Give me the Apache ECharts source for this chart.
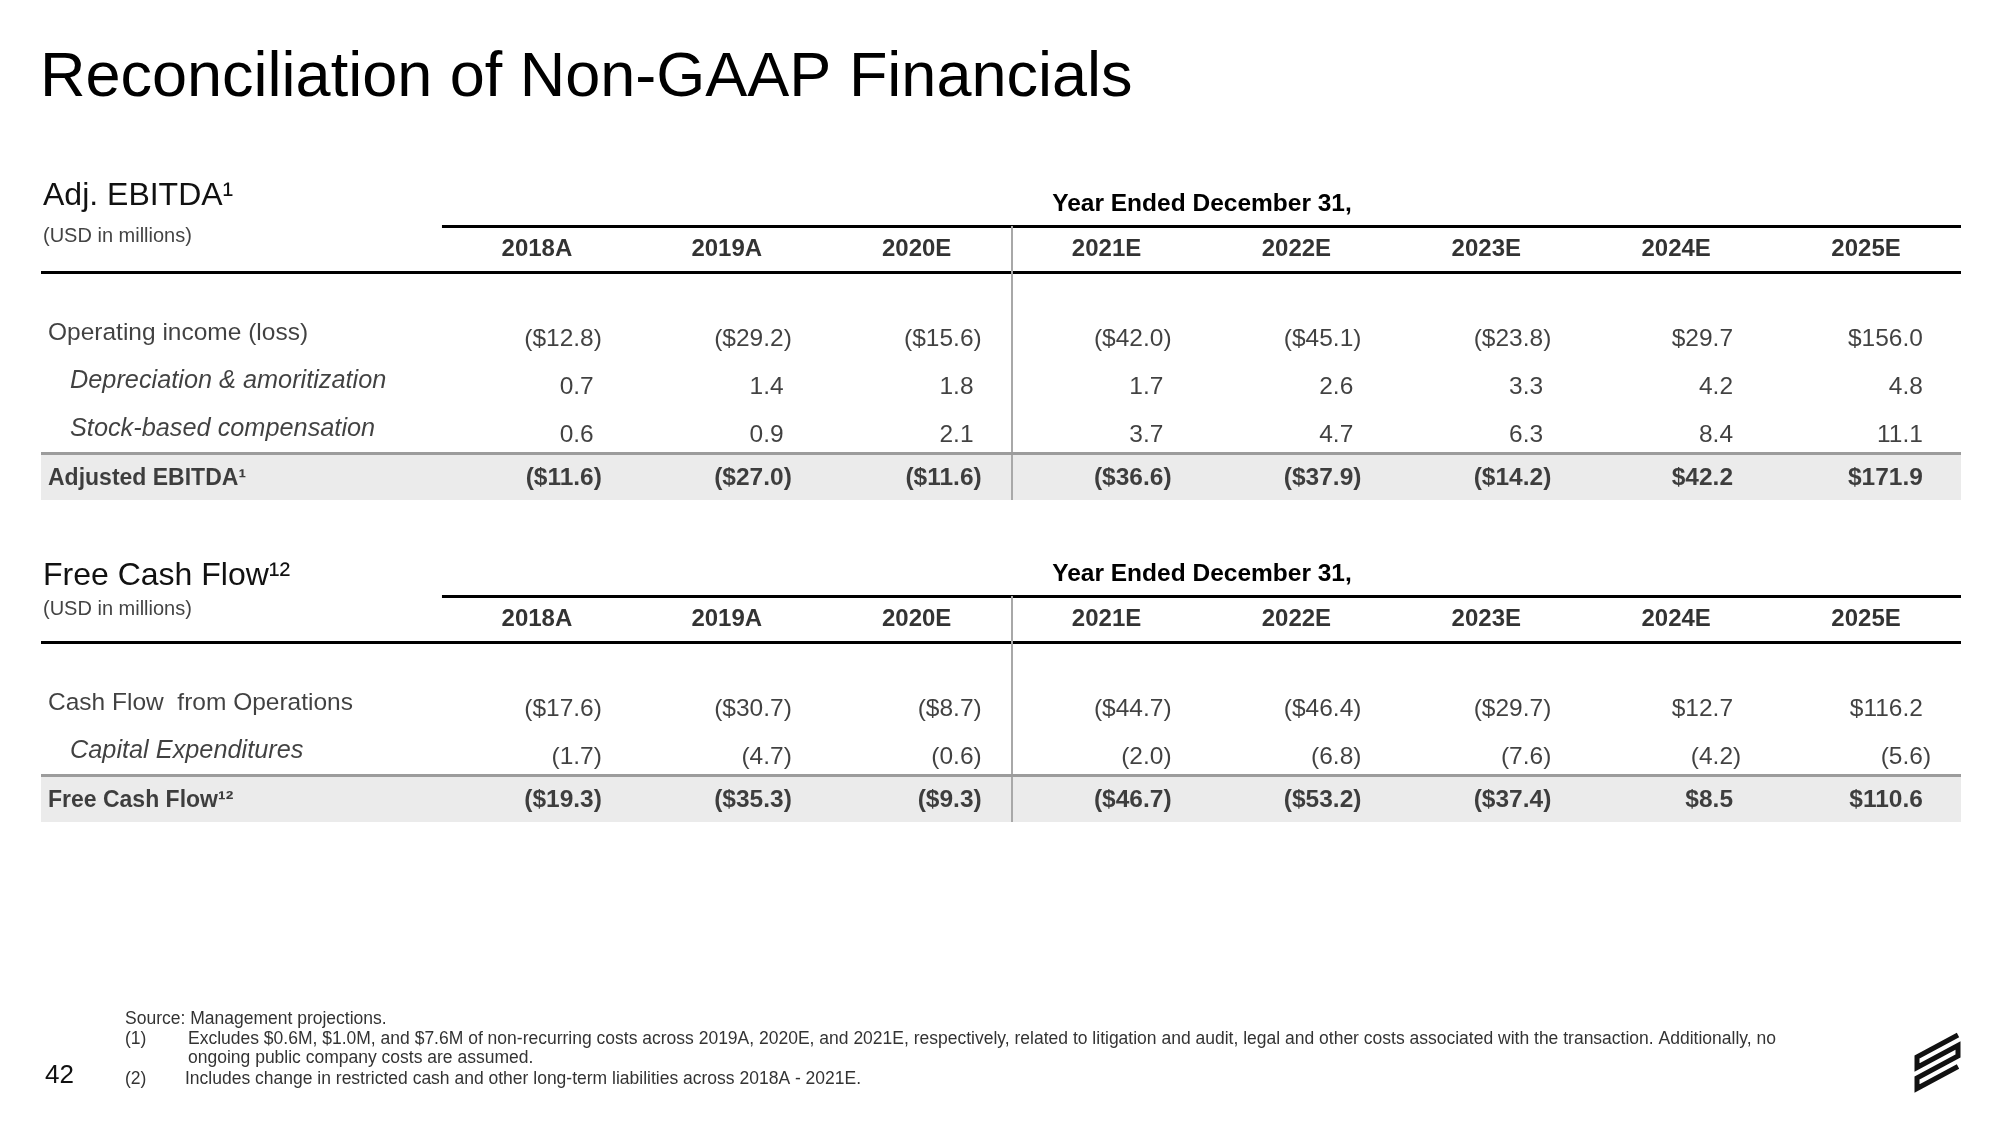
<!DOCTYPE html>
<html><head><meta charset="utf-8">
<script src="https://cdn.jsdelivr.net/npm/echarts@6/dist/echarts.min.js"></script>
<style>html,body{margin:0;padding:0;background:#fff}#c{width:2000px;height:1125px}</style>
</head><body><div id="c"></div><script>
// ---------------- data ----------------
const years = ['2018A','2019A','2020E','2021E','2022E','2023E','2024E','2025E'];

const ebitdaRowLabels = ['Operating income (loss)', 'Depreciation & amoritization', 'Stock-based compensation'];
const operatingIncome = [-12.8, -29.2, -15.6, -42.0, -45.1, -23.8, 29.7, 156.0];
const depreciationAmortization = [0.7, 1.4, 1.8, 1.7, 2.6, 3.3, 4.2, 4.8];
const stockBasedComp = [0.6, 0.9, 2.1, 3.7, 4.7, 6.3, 8.4, 11.1];
const adjustedEbitdaLabel = 'Adjusted EBITDA¹';
const adjustedEbitda = [-11.6, -27.0, -11.6, -36.6, -37.9, -14.2, 42.2, 171.9];

const fcfRowLabels = ['Cash Flow  from Operations', 'Capital Expenditures'];
const cashFlowOps = [-17.6, -30.7, -8.7, -44.7, -46.4, -29.7, 12.7, 116.2];
const capitalExpenditures = [-1.7, -4.7, -0.6, -2.0, -6.8, -7.6, -4.2, -5.6];
const freeCashFlowLabel = 'Free Cash Flow¹²';
const freeCashFlow = [-19.3, -35.3, -9.3, -46.7, -53.2, -37.4, 8.5, 110.6];

// ---------------- layout ----------------
const FONT = "'Liberation Sans', Arial, Helvetica, sans-serif";
const GRID_LEFT = 41, GRID_WIDTH = 1920;
const XMIN = -2.1117, XMAX = 8;
const ROW_PX = 48;
const Y_YEAR = 0.48, Y_RULE = 0.96, Y_ROW0 = 2.354, LABEL_LIFT = 0.125;
const GREY_GAP = 0.375, TOTAL_GAP = 0.9, BOTTOM_GAP = 1.354;
const VALUE_DX = 65;

const tables = [
  { top: 226,
    rows: [
      { label: ebitdaRowLabels[0], values: operatingIncome, dollar: true, kind: 'main' },
      { label: ebitdaRowLabels[1], values: depreciationAmortization, dollar: false, kind: 'sub' },
      { label: ebitdaRowLabels[2], values: stockBasedComp, dollar: false, kind: 'sub' }
    ],
    total: { label: adjustedEbitdaLabel, values: adjustedEbitda } },
  { top: 596,
    rows: [
      { label: fcfRowLabels[0], values: cashFlowOps, dollar: true, kind: 'main' },
      { label: fcfRowLabels[1], values: capitalExpenditures, dollar: false, kind: 'sub' }
    ],
    total: { label: freeCashFlowLabel, values: freeCashFlow } }
];

function fmt(v, dollar) {
  const s = (dollar ? '$' : '') + Math.abs(v).toFixed(1);
  return v < 0 ? '(' + s + ')' : s;
}

const grids = [], xAxes = [], yAxes = [], series = [];

tables.forEach((t, g) => {
  const lastY = Y_ROW0 + t.rows.length - 1;
  const greyY = lastY + GREY_GAP, totalY = lastY + TOTAL_GAP, ymax = lastY + BOTTOM_GAP;
  grids.push({ left: GRID_LEFT, width: GRID_WIDTH, top: t.top, height: ymax * ROW_PX, containLabel: false });
  xAxes.push({ gridIndex: g, type: 'value', min: XMIN, max: XMAX, show: false });
  yAxes.push({ gridIndex: g, type: 'value', inverse: true, min: 0, max: ymax, show: false });

  // band behind the total row
  series.push({
    type: 'scatter', xAxisIndex: g, yAxisIndex: g, silent: true, z: 1,
    symbolSize: 0, data: [[0, 0]],
    markArea: { silent: true, itemStyle: { color: '#ebebeb' },
      data: [[{ coord: [XMIN, greyY] }, { coord: [XMAX, ymax] }]] }
  });
  // rules
  series.push({
    type: 'scatter', xAxisIndex: g, yAxisIndex: g, silent: true, z: 2,
    symbolSize: 0, data: [[0, 0]],
    markLine: { silent: true, symbol: ['none', 'none'], label: { show: false },
      data: [
        [{ coord: [0, 0], lineStyle: { color: '#000', width: 3, type: 'solid' } }, { coord: [XMAX, 0] }],
        [{ coord: [XMIN, Y_RULE], lineStyle: { color: '#000', width: 3, type: 'solid' } }, { coord: [XMAX, Y_RULE] }],
        [{ coord: [3, 0], lineStyle: { color: '#a8a8a8', width: 2, type: 'solid' } }, { coord: [3, ymax] }],
        [{ coord: [XMIN, greyY], lineStyle: { color: '#9c9c9c', width: 3, type: 'solid' } }, { coord: [XMAX, greyY] }]
      ] }
  });
  // year headers
  series.push({
    type: 'scatter', xAxisIndex: g, yAxisIndex: g, silent: true, z: 5,
    symbolSize: 0,
    data: years.map((y, i) => ({ name: y, value: [i + 0.5, Y_YEAR] })),
    label: { show: true, position: 'inside', formatter: p => p.name, color: '#000',
      fontFamily: FONT, fontSize: 24, fontWeight: 'bold', align: 'center', verticalAlign: 'middle' }
  });
  // row labels
  const labelItems = t.rows.map((r, k) => ({
    name: r.label, value: [XMIN, Y_ROW0 + k - LABEL_LIFT],
    label: r.kind === 'sub'
      ? { offset: [29, 0], fontStyle: 'italic', fontSize: 25.3 }
      : { offset: [7, 0], fontSize: 24.5 }
  }));
  labelItems.push({ name: t.total.label, value: [XMIN, totalY],
    label: { offset: [7, 0], fontWeight: 'bold', fontSize: 23 } });
  series.push({
    type: 'scatter', xAxisIndex: g, yAxisIndex: g, silent: true, z: 5, clip: false,
    symbolSize: 0, data: labelItems,
    label: { show: true, position: 'inside', formatter: p => p.name, color: '#111',
      fontFamily: FONT, fontSize: 24, align: 'left', verticalAlign: 'middle' }
  });
  // values
  const valueRows = t.rows.map((r, k) => ({ values: r.values, dollar: r.dollar, y: Y_ROW0 + k, bold: false }));
  valueRows.push({ values: t.total.values, dollar: true, y: totalY, bold: true });
  valueRows.forEach(r => {
    const w = r.bold ? 'bold' : 'normal';
    series.push({
      type: 'scatter', xAxisIndex: g, yAxisIndex: g, silent: true, z: 5,
      symbolSize: 0,
      data: r.values.map((v, i) => [i + 0.5, r.y, v]),
      label: { show: true, position: 'inside', offset: [VALUE_DX, 0], align: 'right', verticalAlign: 'middle',
        formatter: p => {
          const v = p.value[2];
          const s = fmt(v, r.dollar);
          return v < 0 ? '{n|' + s + '}' : '{n|' + s + '}{h|)}';
        },
        rich: {
          n: { fontFamily: FONT, fontSize: 24.5, fontWeight: w, color: '#111' },
          h: { fontFamily: FONT, fontSize: 24.5, fontWeight: w, color: 'rgba(0,0,0,0)' }
        } }
    });
  });
});

function txt(x, y, text, size, opts) {
  opts = opts || {};
  return { type: 'text', x: x, y: y, silent: true, z: 10,
    style: { text: text, fill: opts.color || '#000', fontFamily: opts.font || FONT, fontSize: size,
      fontWeight: opts.weight || 'normal', textAlign: opts.align || 'left', textVerticalAlign: 'middle' } };
}

const FN = 17.5;
const graphics = [
  txt(40, 79, 'Reconciliation of Non-GAAP Financials', 63),
  txt(43, 196, 'Adj. EBITDA¹', 32, { color: '#111' }),
  txt(43, 236, '(USD in millions)', 20, { color: '#444' }),
  txt(1202, 204, 'Year Ended December 31,', 24.5, { weight: 'bold', align: 'center' }),
  txt(43, 576, 'Free Cash Flow¹²', 32, { color: '#111' }),
  txt(43, 609, '(USD in millions)', 20, { color: '#444' }),
  txt(1202, 574, 'Year Ended December 31,', 24.5, { weight: 'bold', align: 'center' }),
  txt(125, 1019, 'Source: Management projections.', FN, { color: '#333' }),
  txt(125, 1039, '(1)', FN, { color: '#333' }),
  txt(188, 1039, 'Excludes $0.6M, $1.0M, and $7.6M of non-recurring costs across 2019A, 2020E, and 2021E, respectively, related to litigation and audit, legal and other costs associated with the transaction. Additionally, no', FN, { color: '#333' }),
  txt(188, 1058, 'ongoing public company costs are assumed.', FN, { color: '#333' }),
  txt(125, 1079, '(2)', FN, { color: '#333' }),
  txt(185, 1079, 'Includes change in restricted cash and other long-term liabilities across 2018A - 2021E.', FN, { color: '#333' }),
  txt(45, 1076, '42', 26, { color: '#111' }),
  { type: 'polyline', silent: true, z: 10,
    shape: { points: [[1958, 1035], [1917, 1057], [1917, 1067.5], [1958, 1045.5], [1958, 1056], [1917, 1078], [1917, 1088.5], [1958, 1066.5]] },
    style: { stroke: '#111', lineWidth: 5, fill: null, lineJoin: 'miter' } }
];

const chart = echarts.init(document.getElementById('c'), null, { renderer: 'canvas' });
chart.setOption({
  animation: false,
  backgroundColor: '#fff',
  grid: grids, xAxis: xAxes, yAxis: yAxes, series: series,
  graphic: graphics
});
</script></body></html>
